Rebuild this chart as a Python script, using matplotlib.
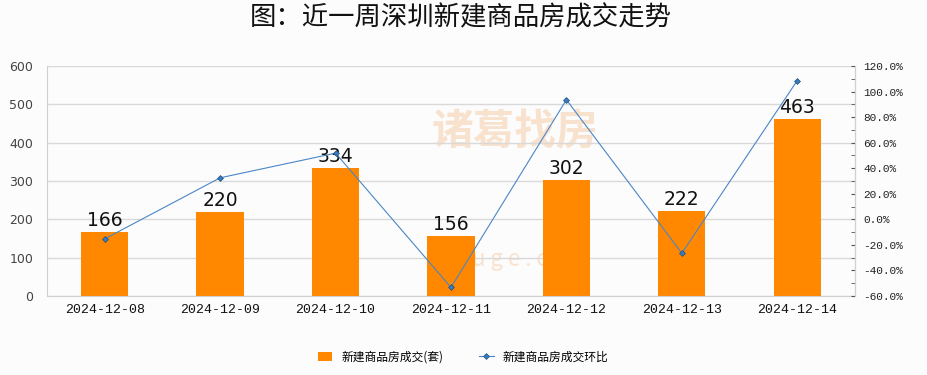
import matplotlib
matplotlib.use("Agg")
import matplotlib.pyplot as plt
from matplotlib.ticker import MultipleLocator, FuncFormatter

plt.rcParams['font.family'] = ['Noto Sans CJK SC', 'DejaVu Sans']

dates = ["2024-12-08", "2024-12-09", "2024-12-10", "2024-12-11",
         "2024-12-12", "2024-12-13", "2024-12-14"]
deals = [166, 220, 334, 156, 302, 222, 463]
mom_pct = [-15.3, 32.5, 51.8, -53.3, 93.6, -26.5, 108.6]

title = "图：近一周深圳新建商品房成交走势"
bar_label = "新建商品房成交(套)"
line_label = "新建商品房成交环比"

fig = plt.figure(figsize=(9.27, 3.75), dpi=100)
fig.patch.set_facecolor("#FCFCFC")
ax = fig.add_axes([0.0507, 0.2107, 0.8716, 0.6133])
ax.set_facecolor("#FCFCFC")
x = list(range(len(dates)))

ax.bar(x, deals, width=0.41, color="#FF8800", zorder=2, label=bar_label)
for xi, v in zip(x, deals):
    ax.text(xi, v + 5, str(v), ha="center", va="bottom", fontsize=13.5,
            color="#111111", zorder=5, family="DejaVu Sans")

ax.set_ylim(0, 600)
ax.set_xlim(-0.5, len(dates) - 0.5)
ax.yaxis.set_major_locator(MultipleLocator(100))
ax.grid(axis="y", color="#D9D9D9", linewidth=1, zorder=0)
ax.set_xticks(x)
ax.set_xticklabels(dates, fontsize=9.5, color="#111111", family="Liberation Mono")
for lab in ax.get_yticklabels():
    lab.set_family("DejaVu Sans")
ax.tick_params(axis="x", length=0, pad=6)
ax.tick_params(axis="y", length=0, labelsize=9, labelcolor="#444444", pad=10)
ax.spines["top"].set_visible(False)
ax.spines["left"].set_color("#D0D0D0")
ax.spines["right"].set_color("#D0D0D0")
ax.spines["bottom"].set_color("#D0D0D0")

ax2 = ax.twinx()
ax2.plot(x, mom_pct, color="#4A86C5", linewidth=0.8, marker="D", markersize=3,
         markerfacecolor="#3A7BC0", markeredgecolor="#1F4E79", markeredgewidth=0.5,
         zorder=4, label=line_label)
ax2.set_ylim(-60, 120)
ax2.yaxis.set_major_locator(MultipleLocator(20))
ax2.yaxis.set_minor_locator(MultipleLocator(10))
ax2.yaxis.set_major_formatter(FuncFormatter(lambda v, p: f"{v:.1f}%"))
ax2.tick_params(axis="y", which="both", direction="in", length=3, color="#555555",
                labelsize=8, labelcolor="#222222", pad=6)
for lab in ax2.get_yticklabels():
    lab.set_family("Liberation Mono")
for s in ["top", "left", "bottom"]:
    ax2.spines[s].set_visible(False)
ax2.spines["right"].set_color("#D0D0D0")

# watermark
ax.text(3.55, 428, "诸葛找房", ha="center", va="center", fontsize=30,
        color="#F5C9A0", alpha=0.5, zorder=1, fontweight="bold")
ax.text(3.55, 95, "z h u g e . c o m", ha="center", va="center", fontsize=16,
        color="#F5C9A0", alpha=0.5, zorder=1)

fig.text(0.497, 0.953, title, ha="center", va="center", fontsize=19,
         color="#111111")

h1, l1 = ax.get_legend_handles_labels()
h2, l2 = ax2.get_legend_handles_labels()
fig.legend(h1 + h2, l1 + l2, loc="center", bbox_to_anchor=(0.5, 0.048), ncol=2,
           frameon=False, fontsize=8.5, handlelength=1.2, handleheight=0.8,
           columnspacing=3)

fig.savefig("out.png", dpi=100, facecolor=fig.get_facecolor())
